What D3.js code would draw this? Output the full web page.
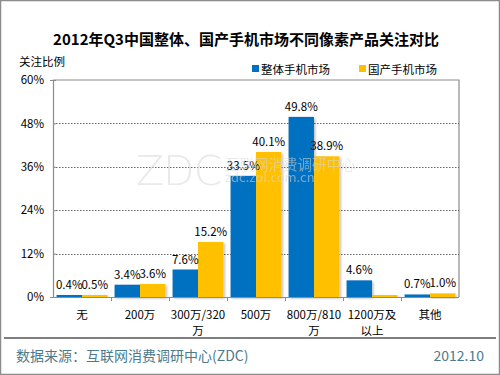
<!DOCTYPE html>
<html>
<head>
<meta charset="utf-8">
<script src="https://cdn.jsdelivr.net/npm/d3@7"></script>
<style>
  body { margin: 0; background: #fff; }
  svg { font-family: "Noto Sans CJK SC", "Noto Sans", sans-serif; }
</style>
</head>
<body>
<div id="chart"></div>
<script>
// data
var categories = ["无", "200万", "300万/320万", "500万", "800万/810万", "1200万及以上", "其他"];
var catLines = [["无"], ["200万"], ["300万/320", "万"], ["500万"], ["800万/810", "万"], ["1200万及", "以上"], ["其他"]];
var seriesNames = ["整体手机市场", "国产手机市场"];
var overall = [0.4, 3.4, 7.6, 33.5, 49.8, 4.6, 0.7];
var domestic = [0.5, 3.6, 15.2, 40.1, 38.9, 0.0, 1.0];
var yTicks = [0, 12, 24, 36, 48, 60];
var colors = ["#0070C0", "#FFC000"];

var width = 500, height = 375;
var svg = d3.select("#chart").append("svg")
    .attr("width", width)
    .attr("height", height);

// outer frame
svg.append("rect")
    .attr("x", 0.5).attr("y", 0.5)
    .attr("width", width - 1).attr("height", height - 1)
    .attr("fill", "#fff").attr("stroke", "#8c8c8c").attr("stroke-width", 1.5);

var plot = { left: 53, right: 459, top: 80, bottom: 297 };

var x = d3.scaleBand()
    .domain(categories)
    .range([plot.left, plot.right])
    .paddingInner(0).paddingOuter(0);

var xs = d3.scaleBand()
    .domain([0, 1])
    .range([0, x.bandwidth()])
    .paddingInner(0).paddingOuter(0.14);

var y = d3.scaleLinear()
    .domain([0, 60])
    .range([plot.bottom, plot.top]);

// title
svg.append("text")
    .attr("x", 246).attr("y", 45)
    .attr("text-anchor", "middle")
    .attr("font-size", 15).attr("font-weight", "bold")
    .attr("fill", "#000")
    .text("2012年Q3中国整体、国产手机市场不同像素产品关注对比");

svg.append("text")
    .attr("x", 19).attr("y", 66)
    .attr("font-size", 11.5).attr("fill", "#000")
    .text("关注比例");

// legend
var legendX = [252, 359];
seriesNames.forEach(function(name, i) {
    svg.append("rect")
        .attr("x", legendX[i]).attr("y", 65)
        .attr("width", 7).attr("height", 7)
        .attr("fill", colors[i]);
    svg.append("text")
        .attr("x", legendX[i] + 9).attr("y", 73.5)
        .attr("font-size", 11.5).attr("fill", "#000")
        .text(name);
});

// plot frame (top and right)
svg.append("path")
    .attr("d", "M" + plot.left + "," + plot.top + "H" + plot.right + "V" + plot.bottom)
    .attr("fill", "none").attr("stroke", "#8c8c8c").attr("stroke-width", 1.2);

// gridlines
svg.append("g").selectAll("line")
    .data(yTicks.filter(function(d) { return d > 0 && d < 60; }))
    .enter().append("line")
    .attr("x1", plot.left).attr("x2", plot.right)
    .attr("y1", function(d) { return Math.round(y(d)) + 0.5; })
    .attr("y2", function(d) { return Math.round(y(d)) + 0.5; })
    .attr("stroke", "#666").attr("stroke-width", 1)
    .attr("stroke-dasharray", "1.5,1.5");

// y axis
var yAxis = svg.append("g")
    .attr("transform", "translate(" + plot.left + ",0)")
    .call(d3.axisLeft(y).tickValues(yTicks).tickSize(3).tickPadding(6)
        .tickFormat(function(d) { return d + "%"; }));
yAxis.select(".domain").attr("stroke", "#8c8c8c").attr("stroke-width", 1.2);
yAxis.selectAll(".tick line").attr("stroke", "#8c8c8c").attr("transform", "translate(3,0)");
yAxis.selectAll(".tick text").attr("font-size", 11.5).attr("fill", "#000")
    .attr("font-family", "Noto Sans CJK SC, sans-serif");

// bars
var seriesData = [overall, domestic];
var defs = svg.append("defs");
var shadow = defs.append("filter").attr("id", "shadow")
    .attr("x", "-20%").attr("y", "-20%").attr("width", "150%").attr("height", "150%");
shadow.append("feDropShadow").attr("dx", 1.5).attr("dy", 1.5)
    .attr("stdDeviation", 1).attr("flood-color", "#000").attr("flood-opacity", 0.25);

var groups = svg.append("g").selectAll("g")
    .data(categories)
    .enter().append("g")
    .attr("transform", function(d) { return "translate(" + x(d) + ",0)"; });

groups.each(function(cat, ci) {
    var g = d3.select(this);
    seriesData.forEach(function(vals, si) {
        var v = vals[ci];
        var barY = y(v);
        var h = plot.bottom - barY;
        if (h < 2) { barY = plot.bottom - 2; h = 2; }
        g.append("rect")
            .attr("x", xs(si))
            .attr("y", barY)
            .attr("width", xs.bandwidth())
            .attr("height", h)
            .attr("fill", colors[si])
            .attr("filter", "url(#shadow)");
    });
});

// watermark, faint, over the bars
var wm = svg.append("g").attr("fill", "#d8d8d8").attr("opacity", 0.55);
wm.append("text").attr("x", 136).attr("y", 185)
    .attr("font-family", "DejaVu Sans, sans-serif").attr("font-weight", "200")
    .attr("font-size", 41).attr("letter-spacing", -1).text("ZDC");
wm.append("text").attr("x", 225).attr("y", 170)
    .attr("font-size", 14.5).text("互联网消费调研中心");
wm.append("text").attr("x", 225).attr("y", 182)
    .attr("font-size", 13).text("zdc.zol.com.cn");

// value labels
groups.each(function(cat, ci) {
    var g = d3.select(this);
    seriesData.forEach(function(vals, si) {
        var v = vals[ci];
        if (v > 0) {
            var barY = Math.min(y(v), plot.bottom - 2);
            g.append("text")
                .attr("x", xs(si) + xs.bandwidth() / 2)
                .attr("y", barY - 6)
                .attr("text-anchor", "middle")
                .attr("font-size", 11.5).attr("fill", "#000")
                .text(v.toFixed(1) + "%");
        }
    });
});

// x axis line and ticks
svg.append("line")
    .attr("x1", plot.left).attr("x2", plot.right)
    .attr("y1", plot.bottom + 0.5).attr("y2", plot.bottom + 0.5)
    .attr("stroke", "#8c8c8c").attr("stroke-width", 1.2);
svg.append("g").selectAll("line")
    .data(categories.slice(1))
    .enter().append("line")
    .attr("x1", function(d) { return x(d) + 0.5; })
    .attr("x2", function(d) { return x(d) + 0.5; })
    .attr("y1", plot.bottom).attr("y2", plot.bottom + 4)
    .attr("stroke", "#8c8c8c");

// x labels
groups.each(function(cat, ci) {
    var t = d3.select(this).append("text")
        .attr("text-anchor", "middle")
        .attr("font-size", 11.5).attr("fill", "#000");
    catLines[ci].forEach(function(line, li) {
        t.append("tspan")
            .attr("x", x.bandwidth() / 2)
            .attr("y", 319 + li * 16)
            .text(line);
    });
});

// footer
svg.append("line")
    .attr("x1", 4).attr("x2", 496)
    .attr("y1", 338).attr("y2", 338)
    .attr("stroke", "#000").attr("stroke-width", 1.2);
svg.append("text")
    .attr("x", 16).attr("y", 361)
    .attr("font-size", 14).attr("fill", "#4d7a8c")
    .text("数据来源：互联网消费调研中心(ZDC)");
svg.append("text")
    .attr("x", 484).attr("y", 361)
    .attr("text-anchor", "end")
    .attr("font-size", 14).attr("fill", "#4d7a8c")
    .text("2012.10");
</script>
</body>
</html>
